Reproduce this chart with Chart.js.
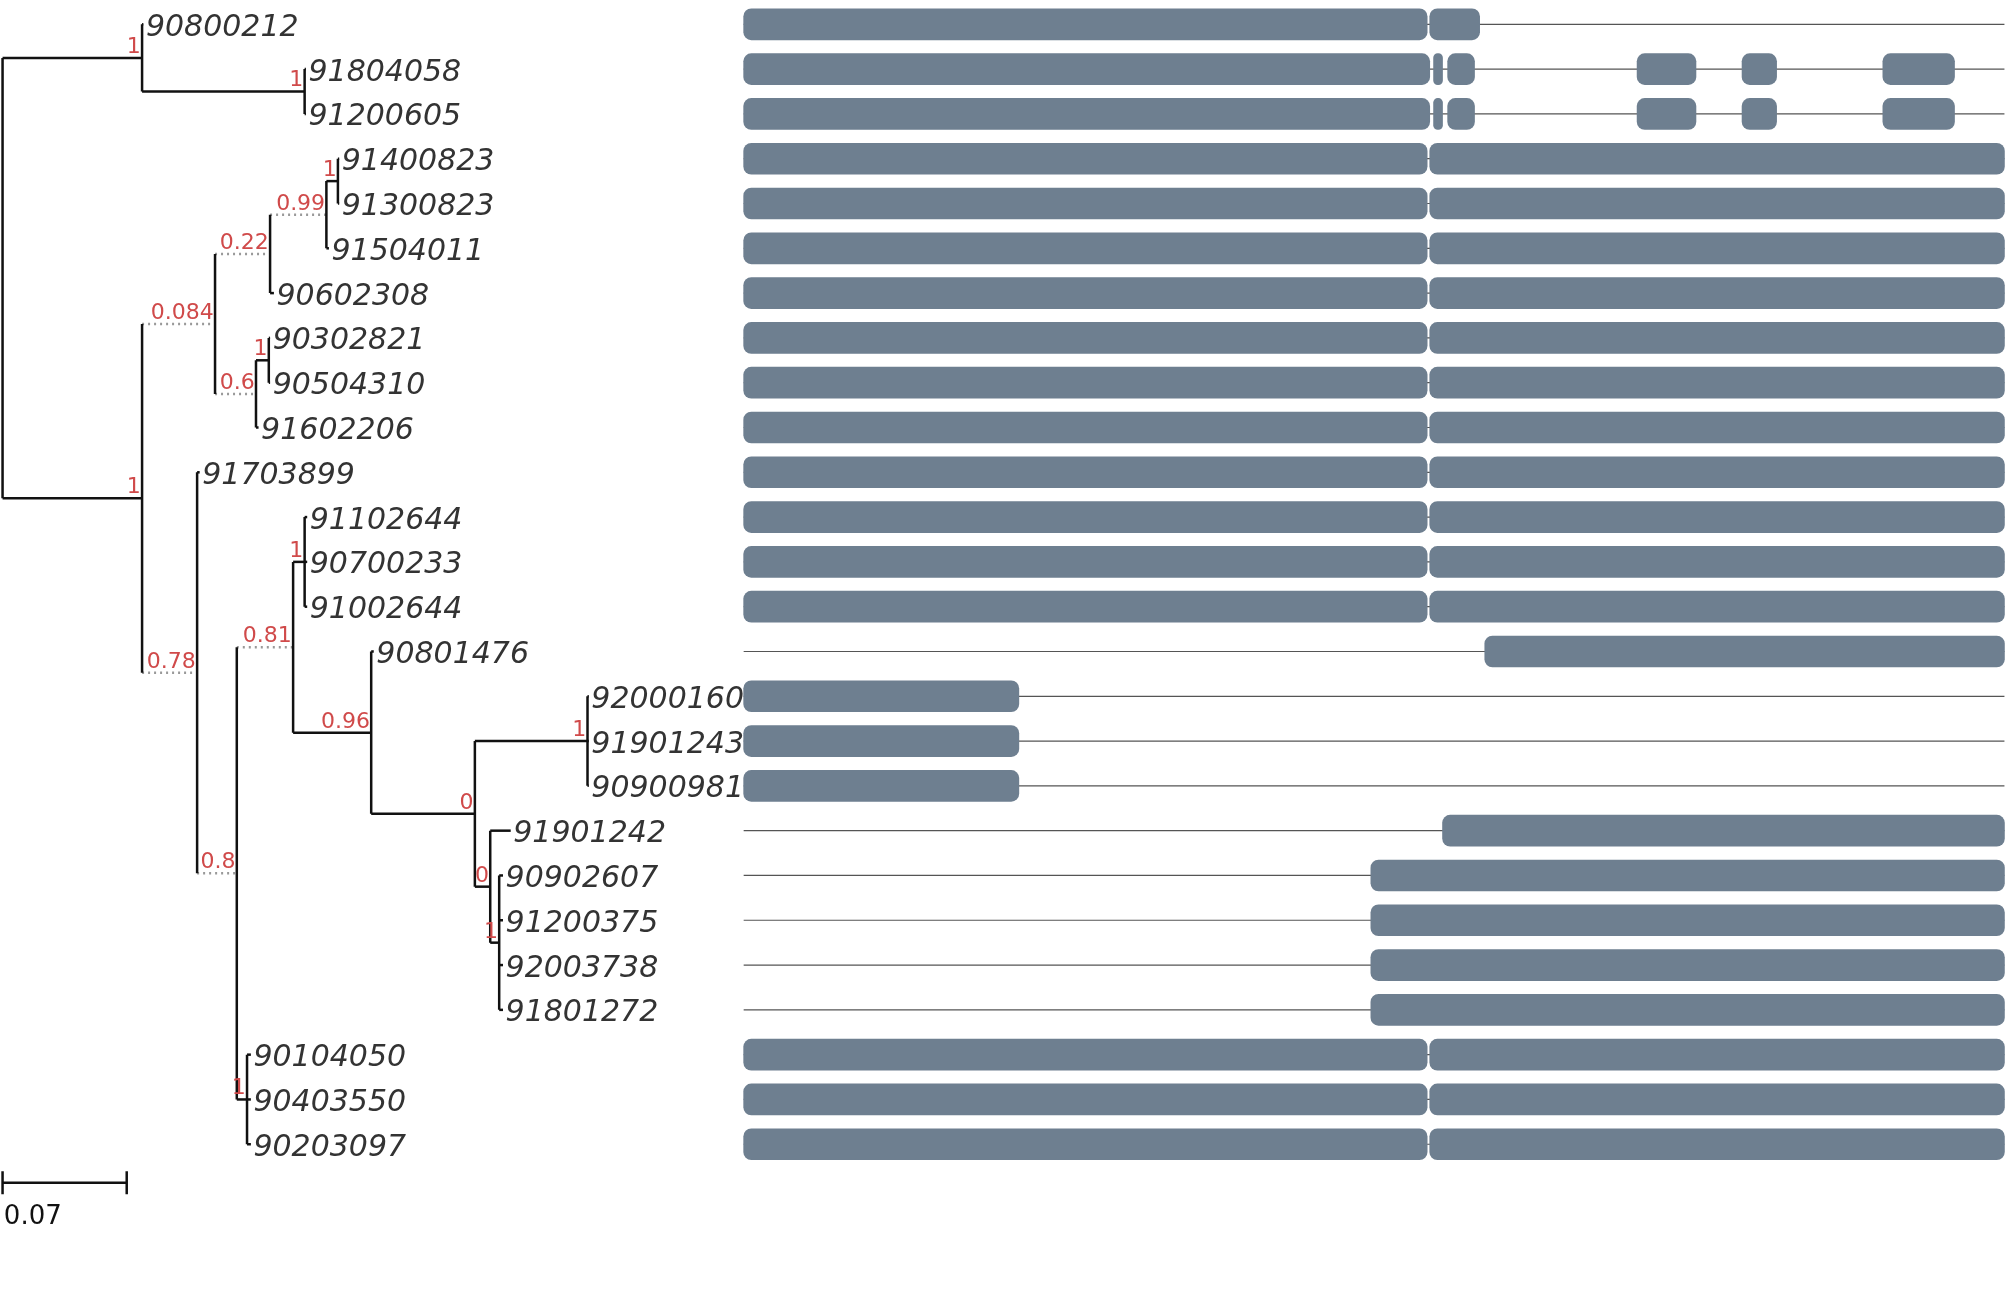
<!DOCTYPE html>
<html>
<head>
<meta charset="UTF-8" />
<script src="https://cdn.jsdelivr.net/npm/chart.js@4"></script>
<style>
  body { margin: 0; background: #fff; }
  #c { width: 2007px; height: 1294px; display: block; }
</style>
</head>
<body>
<canvas id="c" width="2007" height="1294"></canvas>
<script>
// leaves, top to bottom
const leafNames = ["90800212","91804058","91200605","91400823","91300823","91504011","90602308",
  "90302821","90504310","91602206","91703899","91102644","90700233","91002644","90801476",
  "92000160","91901243","90900981","91901242","90902607","91200375","92003738","91801272",
  "90104050","90403550","90203097"];
const leafDepth = [112,239,239,265,265,257,214,211,211,202,156,240,240,240,292,460,460,460,399,393,393,393,393,196,196,196];

// internal nodes (depth in drawing units, support, dotted stem, children)
const nodeDepth   = [2,111,238,111,168,211,255,264,200,210,154,185,229,238,290,371,459,193,383,390];
const nodeSupport = [null,"1","1","1","0.084","0.22","0.99","1","0.6","1","0.78","0.8","0.81","1","0.96","0","1","1","0","1"];
const nodeDotted  = [0,0,0,0,1,1,1,0,1,0,1,1,1,0,0,0,0,0,0,0];
const nodeChildren = [
  ["N1","N3"], ["L0","N2"], ["L1","L2"], ["N4","N10"], ["N5","N8"], ["N6","L6"], ["N7","L5"],
  ["L3","L4"], ["N9","L9"], ["L7","L8"], ["L10","N11"], ["N12","N17"], ["N13","N14"],
  ["L11","L12","L13"], ["L14","N15"], ["N16","N18"], ["L15","L16","L17"], ["L23","L24","L25"],
  ["L18","N19"], ["L19","L20","L21","L22"]
];

// gene structures
const geneTypes = {
  A: [[581,1115],[1117,1156]],
  B: [[581,1117],[1120,1127],[1131,1152],[1279,1325],[1361,1388],[1471,1527]],
  F: [[581,1115],[1117,1566]],
  C: [[1160,1566]],
  D: [[581,796]],
  E: [[1127,1566]],
  G: [[1071,1566]]
};
const rowType = ["A","B","B","F","F","F","F","F","F","F","F","F","F","F","C","D","D","D","E","G","G","G","G","F","F","F"];
const geneSpan = [581,1566];

const scaleBar = [2, 99];
const scaleLabel = "0.07";

// layout: rows 35 units apart
const rowY = i => 19 + 35 * i;
const datasets = [];
const labels = [];

function place(id) {
  if (id[0] == "L") { let i = +id.slice(1); return { x: leafDepth[i], y: rowY(i) }; }
  let n = +id.slice(1);
  let kids = nodeChildren[n].map(place);
  let y = (kids[0].y + kids[kids.length - 1].y) / 2;
  let x = nodeDepth[n];
  // vertical
  datasets.push(seg([{x:x, y:kids[0].y}, {x:x, y:kids[kids.length-1].y}], false));
  // horizontals to children
  nodeChildren[n].forEach((c, k) => {
    let dotted = c[0] == "N" && nodeDotted[+c.slice(1)];
    datasets.push(seg([{x:x, y:kids[k].y}, {x:kids[k].x, y:kids[k].y}], dotted));
  });
  if (nodeSupport[n] != null) labels.push({ x: x, y: y, t: nodeSupport[n] });
  return { x: x, y: y };
}

function seg(pts, dotted) {
  return {
    type: "line", data: pts, parsing: false,
    borderColor: dotted ? "#999" : "#111", borderWidth: 2.5,
    borderDash: dotted ? [2, 4] : [], pointRadius: 0, order: 2
  };
}

place("N0");

// thin gene lines
leafNames.forEach((n, i) => {
  datasets.push({ type: "line", data: [{x:geneSpan[0], y:rowY(i)}, {x:geneSpan[1], y:rowY(i)}],
    borderColor: "#555", borderWidth: 1.2, pointRadius: 0, order: 3 });
});

// exon bars
const bars = [];
rowType.forEach((t, i) => geneTypes[t].forEach(e => bars.push({ y: rowY(i), x: e })));
datasets.push({ type: "bar", indexAxis: "y", data: bars, backgroundColor: "#6e7f90",
  barThickness: 31, borderRadius: 8, borderSkipped: false, order: 1 });

// scale bar
datasets.push(seg([{x:scaleBar[0], y:924}, {x:scaleBar[1], y:924}], false));
datasets.push(seg([{x:scaleBar[0], y:915}, {x:scaleBar[0], y:933}], false));
datasets.push(seg([{x:scaleBar[1], y:915}, {x:scaleBar[1], y:933}], false));

const textPlugin = {
  id: "texts",
  afterDatasetsDraw(chart) {
    const c = chart.ctx, sx = chart.scales.x, sy = chart.scales.y;
    c.save();
    c.font = "italic 30px 'DejaVu Sans'";
    c.fillStyle = "#333";
    c.textAlign = "left";
    c.textBaseline = "alphabetic";
    leafNames.forEach((n, i) => c.fillText(n, sx.getPixelForValue(leafDepth[i] + 2), sy.getPixelForValue(rowY(i) + 9)));
    c.font = "22px 'DejaVu Sans'";
    c.fillStyle = "#d04a4a";
    c.textAlign = "right";
    labels.forEach(l => c.fillText(l.t, sx.getPixelForValue(l.x - 1), sy.getPixelForValue(l.y - 4)));
    c.font = "26px 'DejaVu Sans'";
    c.fillStyle = "#111";
    c.textAlign = "left";
    c.fillText(scaleLabel, sx.getPixelForValue(scaleBar[0] + 1), sy.getPixelForValue(956));
    c.restore();
  }
};

new Chart(document.getElementById("c"), {
  type: "scatter",
  data: { datasets: datasets },
  options: {
    responsive: false, animation: false, devicePixelRatio: 1,
    layout: { padding: 0 },
    plugins: { legend: { display: false }, tooltip: { enabled: false } },
    scales: {
      x: { type: "linear", min: 0, max: 1568, offset: false, display: false },
      y: { type: "linear", min: 0, max: 1011, reverse: true, offset: false, display: false }
    }
  },
  plugins: [textPlugin]
});
</script>
</body>
</html>
